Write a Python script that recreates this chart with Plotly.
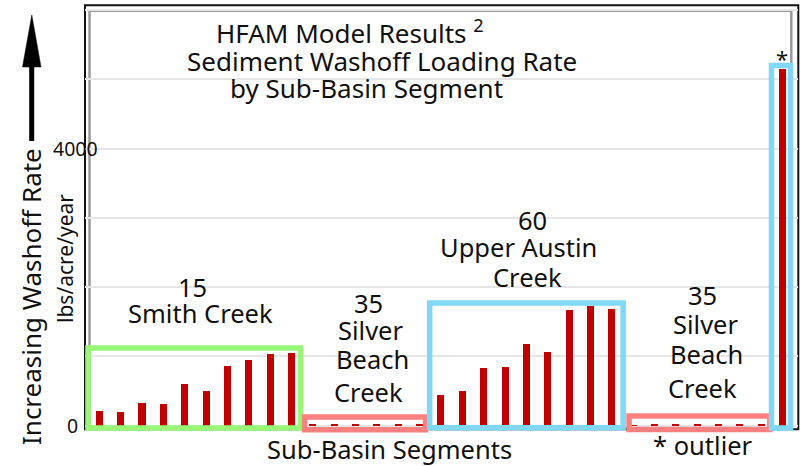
import plotly.graph_objects as go

# ---------------- data (lbs/acre/year) ----------------
smith_creek = [205, 195, 325, 305, 595, 500, 860, 945, 1035, 1055]
silver_beach_1 = [15, 18, 18, 20, 30, 18]
upper_austin = [440, 500, 835, 850, 1175, 1065, 1670, 1720, 1690]
silver_beach_2 = [5, 18, 20, 22, 25, 30, 30]
outlier = [5150]

group_counts = ["15", "35", "60", "35"]
group_names = ["Smith Creek", "Silver Beach Creek", "Upper Austin Creek", "Silver Beach Creek"]
ytick_vals = [0, 4000]
ytick_text = ["0", "4000"]

values = smith_creek + silver_beach_1 + upper_austin + silver_beach_2 + outlier
xs = list(range(len(values)))

# ---------------- layout geometry (pixels) ----------------
W, H = 804, 466
PL, PR, PT, PB = 85, 798, 5, 434


def px(x):
    return (x - PL) / (PR - PL)


def py(y):
    return (PB - y) / (PB - PT)


FONT = "Noto Sans"

fig = go.Figure()
fig.add_trace(go.Bar(
    x=xs, y=values, width=0.33,
    marker=dict(color="#c00000", line=dict(width=0)),
    hoverinfo="y", showlegend=False,
))

# group boxes in data coordinates (index ranges of each group)
n1 = len(smith_creek)
n2 = n1 + len(silver_beach_1)
n3 = n2 + len(upper_austin)
n4 = n3 + len(silver_beach_2)
boxes = [
    (-0.53, n1 - 0.58, -35, 1120, "#98f776"),
    (n1 - 0.39, n2 - 0.72, -60, 124, "#fb8080"),
    (n2 - 0.53, n3 - 0.47, -30, 1770, "#80d8f6"),
    (n3 - 0.19, n4 - 0.60, -55, 139, "#fb8080"),
    (n4 - 0.52, n4 + 0.37, -35, 5199, "#80d8f6"),
]
shapes = []
# inner gray frame
shapes.append(dict(type="rect", xref="paper", yref="paper",
                   x0=px(89.5), x1=px(791.3), y0=py(428.5), y1=py(10.7),
                   line=dict(color="#9a9a9a", width=2.5), layer="below"))
# outer black frame
shapes.append(dict(type="rect", xref="paper", yref="paper",
                   x0=px(85), x1=px(798.3), y0=py(429.3), y1=py(5.3),
                   line=dict(color="#111111", width=2), layer="below"))
for x0, x1, y0, y1, c in boxes:
    shapes.append(dict(type="rect", xref="x", yref="y", x0=x0, x1=x1, y0=y0, y1=y1,
                       line=dict(color=c, width=5.5), layer="above"))

# arrow (shaft + head) on the left
shapes.append(dict(type="line", xref="paper", yref="paper",
                   x0=px(31.7), x1=px(31.7), y0=py(141), y1=py(62),
                   line=dict(color="black", width=5)))
shapes.append(dict(type="path", xref="paper", yref="paper",
                   path=f"M {px(22.5)},{py(67)} L {px(41)},{py(67)} L {px(31.8)},{py(15)} Z",
                   fillcolor="black", line=dict(color="black", width=0.5)))

ann = []


def text(t, x, y, size=25.5, xanchor="center", angle=0):
    ann.append(dict(text=t, x=px(x), y=py(y), xref="paper", yref="paper",
                    xanchor=xanchor, yanchor="middle", showarrow=False,
                    textangle=angle, font=dict(family=FONT, size=size, color="#111111")))


# title
text("HFAM Model Results <sup>2</sup>", 214, 32, 26, "left")
text("Sediment Washoff Loading Rate", 185, 61, 26, "left")
text("by Sub-Basin Segment", 228, 88, 26, "left")

# group labels
text(group_counts[0], 192.5, 287)
text(group_names[0], 200.5, 313)

sb = group_names[1].split(" ")
text(group_counts[1], 368, 303)
text(sb[0], 370.5, 330)
text(sb[1], 372, 359)
text(sb[2], 368.5, 392)

ua = group_names[2].split(" ")
text(group_counts[2], 532, 220)
text(ua[0] + " " + ua[1], 518, 247)
text(ua[2], 527, 277)

sb2 = group_names[3].split(" ")
text(group_counts[3], 702, 295)
text(sb2[0], 705, 324)
text(sb2[1], 706, 354)
text(sb2[2], 702.5, 388)

# axis-like texts
text("Sub-Basin Segments", 389, 449)
text("* outlier", 702.5, 445)
text("*", 782, 58, 22)
text("lbs/acre/year", 65, 259, 21, angle=-90)
text("Increasing Washoff Rate", 31, 297, 26, angle=-90)
for v, t in zip(ytick_vals, ytick_text):
    ann.append(dict(text=t, x=px(75 if t == "4000" else 72), y=v, xref="paper", yref="y",
                    xanchor="center", yanchor="middle", showarrow=False,
                    font=dict(family=FONT, size=19.5, color="#111111")))

fig.update_layout(
    width=W, height=H,
    margin=dict(l=PL, r=W - PR, t=PT, b=H - PB, pad=0),
    paper_bgcolor="white", plot_bgcolor="white",
    bargap=0, showlegend=False,
    xaxis=dict(range=[-0.67, 32.72], showgrid=False, zeroline=False,
               showticklabels=False, ticks="", showline=False, fixedrange=True),
    yaxis=dict(range=[-121, 6073], tickmode="array", tickvals=ytick_vals,
               showticklabels=False, ticks="", showline=False, zeroline=False,
               showgrid=True, gridcolor="#e6e6e6", gridwidth=2,
               minor=dict(tickmode="linear", tick0=0, dtick=1000, showgrid=True,
                          gridcolor="#e6e6e6", gridwidth=2, ticks=""),
               fixedrange=True),
    shapes=shapes, annotations=ann,
    font=dict(family=FONT),
)

fig.write_html("out.html", config={"displayModeBar": False},
               post_script="document.body.style.margin='0';document.body.style.padding='0';")
